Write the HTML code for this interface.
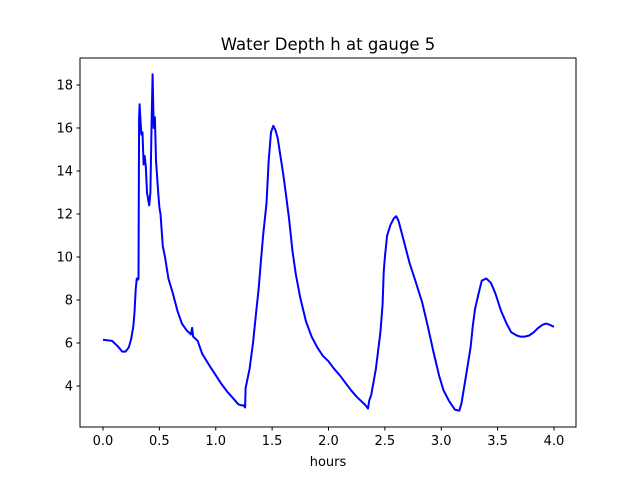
<!DOCTYPE html>
<html><head><meta charset="utf-8"><style>
body{margin:0;background:#fff}
svg text{font-family:"DejaVu Sans","Liberation Sans",sans-serif;fill:#000}
</style></head><body>
<svg id="chart" width="640" height="480" xmlns="http://www.w3.org/2000/svg">
<rect width="640" height="480" fill="#fff"/>
<text x="328" y="50" font-size="16.5" text-anchor="middle">Water Depth h at gauge 5</text>
<text x="328" y="466" font-size="13" text-anchor="middle">hours</text>
<g id="ticks"></g>
<path id="line" fill="none" stroke="#0000ff" stroke-width="2" stroke-linejoin="round"/>
<rect x="80" y="58" width="496" height="369" fill="none" stroke="#000" stroke-width="1"/>
</svg>
<script>
const hours=[0,0.08,0.13,0.17,0.2,0.23,0.25,0.27,0.28,0.29,0.30,0.31,0.315,0.32,0.325,0.34,0.35,0.36,0.37,0.38,0.39,0.41,0.42,0.43,0.44,0.45,0.46,0.47,0.49,0.5,0.51,0.53,0.55,0.58,0.62,0.66,0.7,0.74,0.78,0.79,0.8,0.84,0.88,0.95,1.0,1.05,1.1,1.15,1.2,1.23,1.25,1.26,1.265,1.3,1.33,1.36,1.38,1.40,1.42,1.45,1.47,1.49,1.51,1.53,1.55,1.58,1.6,1.62,1.65,1.68,1.71,1.75,1.8,1.85,1.9,1.95,2.0,2.05,2.1,2.15,2.2,2.25,2.3,2.33,2.35,2.36,2.38,2.42,2.46,2.48,2.49,2.50,2.52,2.55,2.58,2.6,2.62,2.65,2.68,2.72,2.77,2.8,2.83,2.88,2.93,2.98,3.02,3.07,3.12,3.16,3.18,3.22,3.26,3.28,3.3,3.34,3.36,3.40,3.44,3.48,3.53,3.58,3.62,3.67,3.70,3.74,3.78,3.82,3.86,3.9,3.93,3.96,4.0];
const depth=[6.15,6.1,5.85,5.6,5.6,5.8,6.2,6.8,7.5,8.5,9.0,8.95,9.0,16.5,17.1,15.7,15.8,14.3,14.7,14.2,13.0,12.4,13.0,16.0,18.5,16.0,16.5,14.5,13.0,12.3,12.0,10.5,10.0,9.0,8.3,7.5,6.9,6.6,6.4,6.7,6.3,6.1,5.5,4.9,4.5,4.1,3.75,3.45,3.15,3.1,3.1,3.0,3.9,4.8,6.0,7.5,8.5,9.8,11.0,12.5,14.5,15.8,16.1,15.9,15.5,14.5,13.8,13.0,11.8,10.3,9.2,8.1,7.0,6.3,5.8,5.4,5.15,4.8,4.5,4.15,3.8,3.5,3.25,3.1,2.95,3.3,3.6,4.8,6.5,7.8,9.3,10.0,11.0,11.5,11.8,11.9,11.7,11.1,10.5,9.7,8.9,8.4,7.9,6.8,5.6,4.5,3.8,3.3,2.9,2.85,3.2,4.5,5.8,6.8,7.6,8.5,8.9,9.0,8.8,8.3,7.5,6.9,6.5,6.35,6.3,6.3,6.35,6.5,6.7,6.85,6.9,6.85,6.75];
const xTicks=[0,0.5,1,1.5,2,2.5,3,3.5,4];
const xTickLabels=["0.0","0.5","1.0","1.5","2.0","2.5","3.0","3.5","4.0"];
const yTicks=[4,6,8,10,12,14,16,18];
const yTickLabels=["4","6","8","10","12","14","16","18"];
const xs=t=>103+t*112.75;
const ys=h=>386-(h-4)*21.5;
const NS="http://www.w3.org/2000/svg";
const g=document.getElementById('ticks');
function mk(tag,attrs){const e=document.createElementNS(NS,tag);for(const k in attrs)e.setAttribute(k,attrs[k]);g.appendChild(e);return e;}
xTicks.forEach((t,i)=>{
  const l=mk('line',{x1:xs(t),x2:xs(t),y1:427,y2:430.5,stroke:'#000'});
  
  
  const tx=mk('text',{x:xs(t),y:445,'font-size':13,'text-anchor':'middle'});
  
  
  tx.textContent=xTickLabels[i];
});
yTicks.forEach((v,i)=>{
  const l=mk('line',{x1:76.5,x2:80,y1:ys(v),y2:ys(v),stroke:'#000'});
  
  
  const tx=mk('text',{x:73,y:ys(v)+4.5,'font-size':13,'text-anchor':'end'});
  
  
  tx.textContent=yTickLabels[i];
});
document.getElementById('line').setAttribute('d',hours.map((t,i)=>(i?'L':'M')+xs(t).toFixed(1)+','+ys(depth[i]).toFixed(1)).join(''));
</script>
</body></html>
